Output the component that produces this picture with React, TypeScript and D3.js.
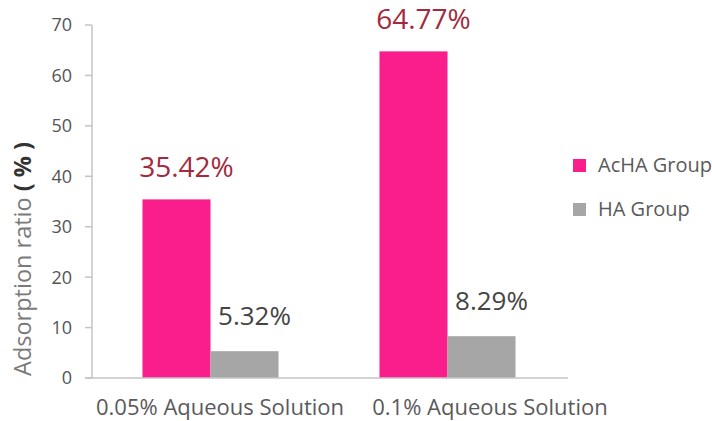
import React from "react";
import * as d3 from "d3";

const categories = ["0.05% Aqueous Solution", "0.1% Aqueous Solution"];
const seriesNames = ["AcHA Group", "HA Group"];
const achaValues = [35.42, 64.77];
const haValues = [5.32, 8.29];
const yTicks = [0, 10, 20, 30, 40, 50, 60, 70];

const colors: Record<string, string> = { "AcHA Group": "#fa1e8c", "HA Group": "#a6a6a6" };
const labelColors: Record<string, string> = { "AcHA Group": "#a32a3e", "HA Group": "#454545" };
const labelSizes: Record<string, number> = { "AcHA Group": 28, "HA Group": 26 };
const labelOffsets: Record<string, number> = { "AcHA Group": 22, "HA Group": 26 };

const W = 712;
const H = 421;
const FONT = "'Open Sans', 'Noto Sans', sans-serif";

export default function App() {
  const x0 = d3.scaleBand<string>().domain(categories).range([92, 566]).paddingInner(0.426).paddingOuter(0.213);
  const x1 = d3.scaleBand<string>().domain(seriesNames).range([0, x0.bandwidth()]);
  const xLabel = d3.scalePoint<string>().domain(categories).range([220, 490]);
  const y = d3.scaleLinear().domain([0, 70]).range([378, 25]);

  const rows = categories.map((c, i) => ({
    cat: c,
    vals: [
      { s: seriesNames[0], v: achaValues[i] },
      { s: seriesNames[1], v: haValues[i] },
    ],
  }));

  return (
    <svg width={W} height={H} style={{ position: "absolute", left: 0, top: 0, background: "#fff" }} fontFamily={FONT}>
      <rect width={W} height={H} fill="#fff" />
      {/* y axis */}
      <line x1={92} x2={92} y1={y(70)} y2={y(0)} stroke="#c4c4c4" strokeWidth={1.5} />
      {yTicks.map((t) => (
        <g key={t}>
          <line x1={85} x2={92} y1={y(t)} y2={y(t)} stroke="#c4c4c4" strokeWidth={1.5} />
          <text x={72} y={y(t)} dy="0.36em" textAnchor="end" fontSize={18} fill="#555">
            {t}
          </text>
        </g>
      ))}
      {/* bars */}
      {rows.map((r) => (
        <g key={r.cat} transform={`translate(${x0(r.cat)},0)`}>
          {r.vals.map((d) => (
            <rect key={d.s} x={x1(d.s)} y={y(d.v)} width={x1.bandwidth()} height={y(0) - y(d.v)} fill={colors[d.s]} />
          ))}
          {r.vals.map((d) => (
            <text
              key={d.s + "l"}
              x={(x1(d.s) as number) + x1.bandwidth() / 2 + 10}
              y={y(d.v) - labelOffsets[d.s]}
              textAnchor="middle"
              fontSize={labelSizes[d.s]}
              fill={labelColors[d.s]}
            >
              {d.v.toFixed(2)}%
            </text>
          ))}
        </g>
      ))}
      {/* x axis */}
      <line x1={85} x2={568} y1={y(0)} y2={y(0)} stroke="#c4c4c4" strokeWidth={1.5} />
      {categories.map((c) => (
        <text key={c} x={xLabel(c)} y={415} textAnchor="middle" fontSize={22} fill="#5a5a5a">
          {c}
        </text>
      ))}
      {/* y title */}
      <text transform={`translate(31,259) rotate(-90)`} textAnchor="middle" fontSize={23.5} fill="#7a7a7a">
        Adsorption ratio
        <tspan fontWeight="bold" fill="#333" dx={6}>( % )</tspan>
      </text>
      {/* legend */}
      {seriesNames.map((s, i) => (
        <g key={s} transform={`translate(573,${159 + i * 44})`}>
          <rect width={13} height={13} fill={colors[s]} />
          <text x={25} y={13} fontSize={20} fill="#5a5a5a">
            {s}
          </text>
        </g>
      ))}
    </svg>
  );
}
